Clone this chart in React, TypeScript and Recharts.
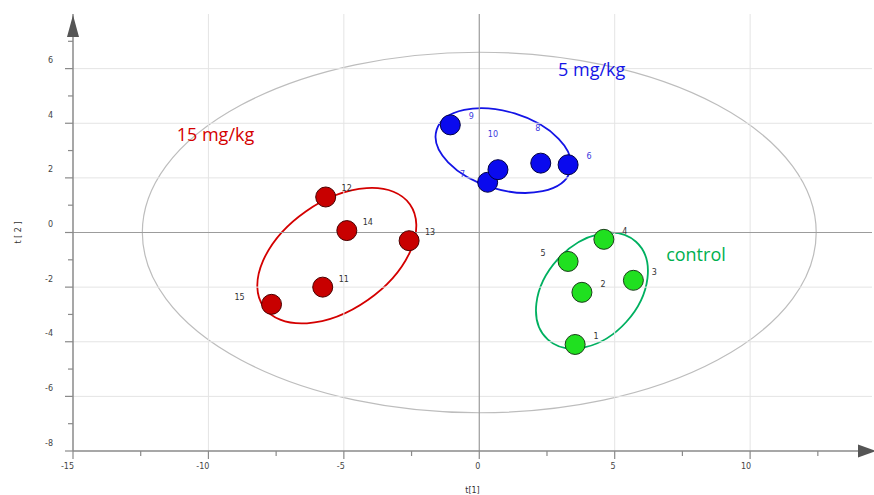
import {
  ReferenceArea,
  ReferenceDot,
  ReferenceLine,
  Scatter,
  ScatterChart,
  XAxis,
  YAxis,
} from "recharts";

// scores on t[1] / t[2]
const control = [
  { id: "1", t1: 3.54, t2: -4.1 },
  { id: "2", t1: 3.79, t2: -2.19 },
  { id: "3", t1: 5.69, t2: -1.75 },
  { id: "4", t1: 4.6, t2: -0.25 },
  { id: "5", t1: 3.28, t2: -1.06 },
];

const dose5 = [
  { id: "6", t1: 3.28, t2: 2.48 },
  { id: "7", t1: 0.31, t2: 1.84 },
  { id: "8", t1: 2.27, t2: 2.54 },
  { id: "9", t1: -1.07, t2: 3.94 },
  { id: "10", t1: 0.69, t2: 2.3 },
];

const dose15 = [
  { id: "11", t1: -5.78, t2: -2.0 },
  { id: "12", t1: -5.67, t2: 1.3 },
  { id: "13", t1: -2.59, t2: -0.3 },
  { id: "14", t1: -4.89, t2: 0.07 },
  { id: "15", t1: -7.67, t2: -2.63 },
];

const X_TICKS = [-15, -12.5, -10, -7.5, -5, -2.5, 0, 2.5, 5, 7.5, 10, 12.5];
const X_LABELED = [-15, -10, -5, 0, 5, 10];
const Y_TICKS = [-8, -7, -6, -5, -4, -3, -2, -1, 0, 1, 2, 3, 4, 5, 6, 7];
const Y_LABELED = [-8, -6, -4, -2, 0, 2, 4, 6];
const X_GRID = [-10, -5, 5, 10];
const Y_GRID = [-6, -4, -2, 2, 4, 6];

// Hotelling ellipse and hand-drawn group ellipses (centre, semi-axes, tilt in degrees)
const ELLIPSES = [
  { cx: 0, cy: 0, a: 12.44, b: 6.6, angle: 0, color: "#bdbdbd", width: 1.2 },
  { cx: -5.26, cy: -0.85, a: 3.3, b: 1.98, angle: 35, color: "#d40000", width: 1.8 },
  { cx: 0.89, cy: 3.0, a: 2.58, b: 1.42, angle: -17, color: "#1414e6", width: 1.8 },
  { cx: 4.16, cy: -2.13, a: 2.43, b: 1.7, angle: 48, color: "#00b060", width: 1.8 },
];

const TITLES = [
  { text: "15 mg/kg", t1: -9.74, t2: 3.52, color: "#d40000" },
  { text: "5 mg/kg", t1: 4.15, t2: 5.89, color: "#1414e6" },
  { text: "control", t1: 8.0, t2: -0.85, color: "#00b050" },
];

// label placement around each dot, px
const LABEL_OFFSET: Record<string, [number, number]> = {
  "15": [-32, -7],
  "10": [-5, -35],
  "7": [-25, -8],
  "8": [-3, -35],
  "5": [-25, -8],
};

const AXIS = "#8a8a8a";
const TICK_FONT = "'DejaVu Sans', sans-serif";
const TITLE_FONT = "'Open Sans', sans-serif";

function XTick(props: any) {
  const { x, y, payload } = props;
  const v = payload.value;
  const major = X_LABELED.includes(v);
  return (
    <g>
      <line x1={x} x2={x} y1={y} y2={y + (major ? 8 : 5)} stroke={AXIS} strokeWidth={1.2} />
      {major && (
        <text x={x + 1} y={y + 15} textAnchor="end" dominantBaseline="middle" fontSize={8} fontFamily={TICK_FONT} fill="#444">
          {String(v)}
        </text>
      )}
    </g>
  );
}

function YTick(props: any) {
  const { x, y, payload } = props;
  const v = payload.value;
  const major = Y_LABELED.includes(v);
  return (
    <g>
      <line x1={x - (major ? 8 : 5)} x2={x} y1={y} y2={y} stroke={AXIS} strokeWidth={1.2} />
      {major && (
        <text x={x - 20} y={y - 8} textAnchor="end" dominantBaseline="middle" fontSize={8} fontFamily={TICK_FONT} fill="#444">
          {String(v)}
        </text>
      )}
    </g>
  );
}

const dotShape = (fill: string, stroke: string, labelColor: string) => (p: any) => {
  const { cx, cy, payload } = p;
  const [dx, dy] = LABEL_OFFSET[payload.id] ?? [21, -8];
  return (
    <g>
      <circle cx={cx} cy={cy} r={10} fill={fill} stroke={stroke} strokeWidth={1} />
      <text
        x={cx + dx}
        y={cy + dy}
        textAnchor="middle"
        dominantBaseline="middle"
        fontSize={8}
        fontFamily={TICK_FONT}
        fill={labelColor}
      >
        {payload.id}
      </text>
    </g>
  );
};

const ellipseShape = (angle: number, color: string, width: number) => (p: any) => {
  const ex = p.x + p.width / 2;
  const ey = p.y + p.height / 2;
  return (
    <ellipse
      cx={ex}
      cy={ey}
      rx={Math.abs(p.width) / 2}
      ry={Math.abs(p.height) / 2}
      fill="none"
      stroke={color}
      strokeWidth={width}
      transform={`rotate(${-angle} ${ex} ${ey})`}
    />
  );
};

export default function App() {
  return (
    <div style={{ position: "absolute", left: 0, top: 0, width: 874, height: 495, background: "#fff" }}>
      <ScatterChart width={874} height={495} margin={{ top: 14, right: 2, left: 13, bottom: 14 }}>
        <XAxis
          type="number"
          dataKey="t1"
          domain={[-15, 14.5]}
          ticks={X_TICKS}
          interval={0}
          height={30}
          tickSize={0}
          tickMargin={0}
          tickLine={false}
          tick={(p: any) => <XTick {...p} />}
          axisLine={{ stroke: AXIS, strokeWidth: 1.5 }}
          label={{ value: "t[1]", position: "bottom", offset: 6, fontSize: 8, fontFamily: TICK_FONT, fill: "#333" }}
        />
        <YAxis
          type="number"
          dataKey="t2"
          domain={[-8, 8]}
          ticks={Y_TICKS}
          interval={0}
          width={60}
          tickSize={0}
          tickMargin={0}
          tickLine={false}
          tick={(p: any) => <YTick {...p} />}
          axisLine={{ stroke: AXIS, strokeWidth: 1.5 }}
          label={{
            value: "t [ 2 ]",
            angle: -90,
            position: "insideLeft",
            offset: 5,
            fontSize: 8,
            fontFamily: TICK_FONT,
            fill: "#333",
            style: { textAnchor: "middle" },
          }}
        />

        {X_GRID.map((v) => (
          <ReferenceLine key={`gx${v}`} x={v} stroke="#e4e4e4" strokeWidth={1} />
        ))}
        {Y_GRID.map((v) => (
          <ReferenceLine key={`gy${v}`} y={v} stroke="#e4e4e4" strokeWidth={1} />
        ))}
        <ReferenceLine x={0} stroke="#9c9c9c" strokeWidth={1.2} />
        <ReferenceLine y={0} stroke="#9c9c9c" strokeWidth={1.2} />

        {ELLIPSES.map((e, i) => (
          <ReferenceArea
            key={`e${i}`}
            x1={e.cx - e.a}
            x2={e.cx + e.a}
            y1={e.cy - e.b}
            y2={e.cy + e.b}
            ifOverflow="visible"
            shape={ellipseShape(e.angle, e.color, e.width)}
          />
        ))}

        {TITLES.map((t) => (
          <ReferenceDot
            key={t.text}
            x={t.t1}
            y={t.t2}
            ifOverflow="visible"
            shape={(p: any) => (
              <text
                x={p.cx}
                y={p.cy}
                textAnchor="middle"
                dominantBaseline="middle"
                fontSize={18}
                fontFamily={TITLE_FONT}
                fill={t.color}
              >
                {t.text}
              </text>
            )}
          />
        ))}

        {/* axis arrow heads */}
        <ReferenceDot
          x={-15}
          y={8}
          ifOverflow="visible"
          shape={(p: any) => (
            <polygon
              points={`${p.cx},${p.cy + 1} ${p.cx - 6},${p.cy + 23} ${p.cx + 6},${p.cy + 23}`}
              fill="#555"
            />
          )}
        />
        <ReferenceDot
          x={14.5}
          y={-8}
          ifOverflow="visible"
          shape={(p: any) => (
            <polygon
              points={`${p.cx + 4},${p.cy} ${p.cx - 14},${p.cy - 6.5} ${p.cx - 14},${p.cy + 6.5}`}
              fill="#555"
            />
          )}
        />

        <Scatter data={dose15} isAnimationActive={false} shape={dotShape("#c80000", "#4a0000", "#333")} />
        <Scatter data={dose5} isAnimationActive={false} shape={dotShape("#0a0aee", "#000044", "#3a3ae0")} />
        <Scatter data={control} isAnimationActive={false} shape={dotShape("#20e020", "#1a3d1a", "#333")} />
      </ScatterChart>
    </div>
  );
}
